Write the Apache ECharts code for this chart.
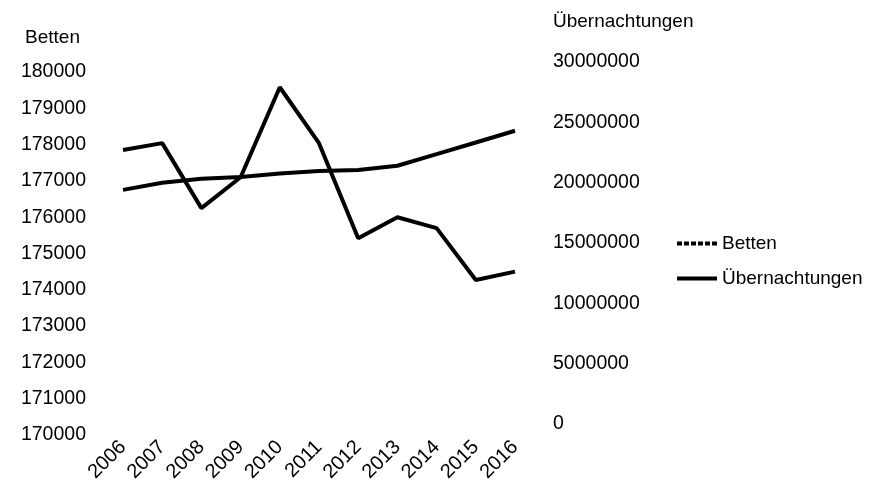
<!DOCTYPE html>
<html>
<head>
<meta charset="utf-8">
<script src="https://cdn.jsdelivr.net/npm/echarts@6/dist/echarts.min.js"></script>
<style>
  html, body { margin: 0; padding: 0; background: #fff; }
  #main { width: 875px; height: 494px; }
</style>
</head>
<body>
<div id="main"></div>
<script>
const years = ['2006', '2007', '2008', '2009', '2010', '2011', '2012', '2013', '2014', '2015', '2016'];
const betten = [177850, 178040, 176250, 177100, 179580, 178040, 175420, 176000, 175700, 174270, 174500];
const uebernachtungen = [19400000, 20000000, 20330000, 20470000, 20750000, 20970000, 21050000, 21400000, 22360000, 23330000, 24300000];

const font = 'Liberation Sans, Arial, sans-serif';
const plain = v => String(v);

const myChart = echarts.init(document.getElementById('main'));
const option = {
  backgroundColor: '#fff',
  animation: false,
  textStyle: { fontFamily: font, color: '#000' },
  grid: [
    { left: 123, width: 392, top: 72, height: 363 },
    { left: 123, width: 392, top: 62, height: 362 }
  ],
  legend: {
    orient: 'vertical',
    left: 675,
    top: 234,
    padding: 0,
    itemWidth: 40,
    itemHeight: 14,
    itemGap: 16,
    textStyle: { fontSize: 19, color: '#000', fontFamily: font },
    data: [
      { name: 'Betten', itemStyle: { opacity: 0 }, lineStyle: { type: [5, 2], width: 4, color: '#000' } },
      { name: 'Übernachtungen', itemStyle: { opacity: 0 }, lineStyle: { width: 4, color: '#000' } }
    ]
  },
  xAxis: [
    {
      type: 'category',
      gridIndex: 0,
      data: years,
      boundaryGap: false,
      axisLine: { show: false },
      axisTick: { show: false },
      axisLabel: { rotate: 45, margin: 9, fontSize: 20, color: '#000', fontFamily: font }
    },
    {
      type: 'category',
      gridIndex: 1,
      data: years,
      boundaryGap: false,
      show: false
    }
  ],
  yAxis: [
    {
      type: 'value',
      gridIndex: 0,
      position: 'left',
      min: 170000,
      max: 180000,
      interval: 1000,
      name: 'Betten',
      nameLocation: 'end',
      nameGap: 34,
      nameTextStyle: { fontSize: 19, color: '#000', align: 'right', verticalAlign: 'middle', padding: [0, 43, 0, 0] },
      axisLine: { show: false },
      axisTick: { show: false },
      splitLine: { show: false },
      axisLabel: { margin: 37, fontSize: 19.5, color: '#000', fontFamily: font, formatter: plain }
    },
    {
      type: 'value',
      gridIndex: 1,
      position: 'right',
      min: 0,
      max: 30000000,
      interval: 5000000,
      name: 'Übernachtungen',
      nameLocation: 'end',
      nameGap: 40,
      nameTextStyle: { fontSize: 19, color: '#000', align: 'left', verticalAlign: 'middle', padding: [0, 0, 0, 38] },
      axisLine: { show: false },
      axisTick: { show: false },
      splitLine: { show: false },
      axisLabel: { margin: 38, fontSize: 19.5, color: '#000', fontFamily: font, formatter: plain }
    }
  ],
  series: [
    {
      name: 'Betten',
      type: 'line',
      xAxisIndex: 0,
      yAxisIndex: 0,
      data: betten,
      symbol: 'none',
      lineStyle: { color: '#000', width: 4 },
      itemStyle: { color: '#000' }
    },
    {
      name: 'Übernachtungen',
      type: 'line',
      xAxisIndex: 1,
      yAxisIndex: 1,
      data: uebernachtungen,
      symbol: 'none',
      lineStyle: { color: '#000', width: 4 },
      itemStyle: { color: '#000' }
    }
  ]
};
myChart.setOption(option);
window.addEventListener('resize', () => {
  myChart.resize();
});
</script>
</body>
</html>
